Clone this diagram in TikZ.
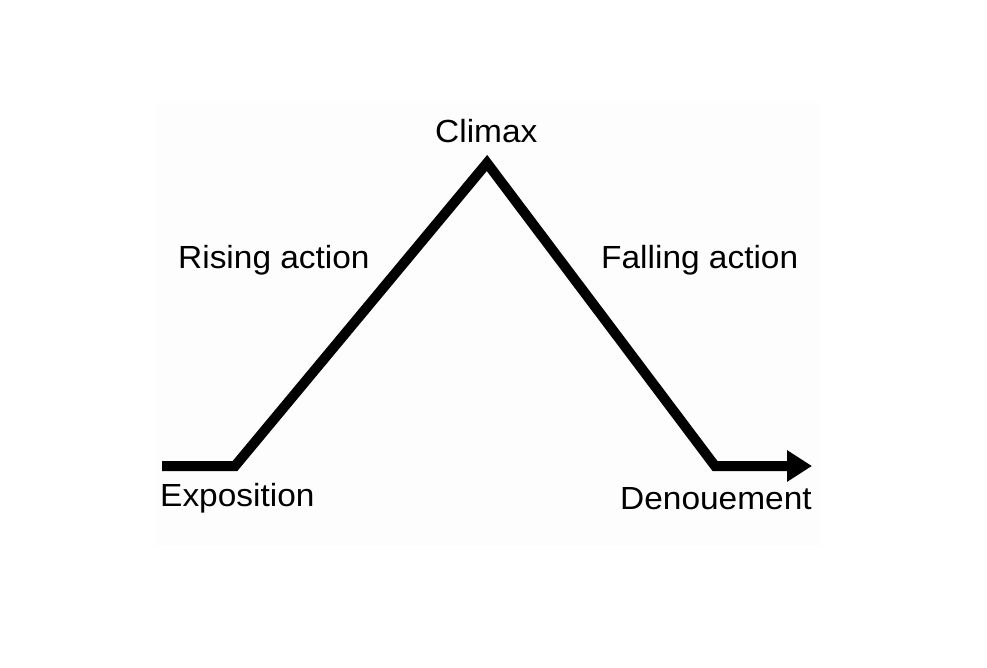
\documentclass[tikz,border=0pt]{standalone}
\usepackage{fontspec}
\setmainfont[FakeStretch=1.045]{Liberation Sans}
\usetikzlibrary{arrows.meta}
\definecolor{bgfaint}{RGB}{253,253,253}
\begin{document}
\begin{tikzpicture}[x=1pt,y=-1pt,
  lbl/.style={inner sep=0pt,anchor=base west,font=\fontsize{32}{38}\selectfont},
  plot/.style={line width=10pt,line join=miter,black}]
\useasboundingbox (0,0) rectangle (987,668);
\fill[bgfaint] (155,103) rectangle (821,546);
\coordinate (start) at (162,466);
\coordinate (rise) at (235,466);
\coordinate (peak) at (487,163);
\coordinate (fall) at (715,466);
\coordinate (end) at (812,466);
\draw[plot,-{Triangle[length=25pt,width=30pt]}] (start) -- (rise) -- (peak) -- (fall) -- (end);
\node[lbl] (climax) at (435,143) {Climax};
\node[lbl] (rising) at (178,269) {Rising action};
\node[lbl] (falling) at (601,269) {Falling action};
\node[lbl] (expo) at (160,506) {Exposition};
\node[lbl] (denoue) at (620,509) {Denouement};
\end{tikzpicture}
\end{document}
